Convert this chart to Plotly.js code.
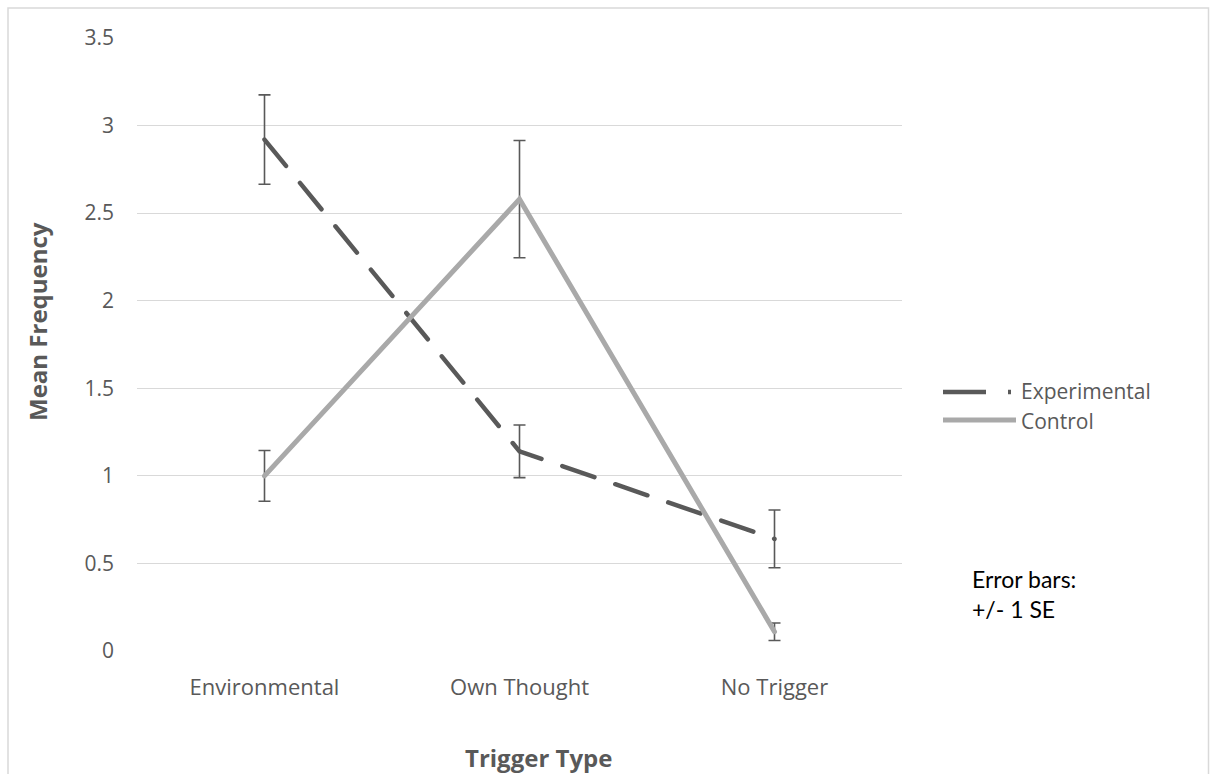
<!DOCTYPE html>
<html>
<head>
<meta charset="utf-8">
<script src="https://cdn.plot.ly/plotly-3.0.1.min.js"></script>
<style>
  html, body { margin: 0; padding: 0; background: #fff; }
  #chart { width: 1210px; height: 774px; }
  .scatterlayer .js-line { stroke-linecap: round; }
</style>
</head>
<body>
<div id="chart"></div>
<script>
// ---- Data ----
const categories = ["Environmental", "Own Thought", "No Trigger"];
const experimentalMean = [2.92, 1.14, 0.64];
const experimentalSE = [0.255, 0.15, 0.165];
const controlMean = [1.00, 2.58, 0.11];
const controlSE = [0.145, 0.335, 0.05];
const yTickVals = [0, 0.5, 1, 1.5, 2, 2.5, 3, 3.5];
const yTickText = ["0", "0.5", "1", "1.5", "2", "2.5", "3", "3.5"];
const seriesNames = ["Experimental", "Control"];
const xTitle = "Trigger Type";
const yTitle = "Mean Frequency";

// ---- Layout geometry (pixels) ----
const W = 1210, H = 774;
const M = { l: 137, r: 308, t: 38, b: 123 };
const PW = W - M.l - M.r, PH = H - M.t - M.b;
const px = x => (x - M.l) / PW;
const py = y => (H - M.b - y) / PH;

const darkGray = "#595959";
const lightGray = "#A9A9A9";
const errColor = "#595959";

const traces = [
  {
    type: "scatter", mode: "lines", name: seriesNames[0],
    x: categories, y: experimentalMean,
    line: { color: darkGray, width: 4.5, dash: "34px,22px" },
    error_y: { type: "data", array: experimentalSE, visible: true, color: errColor, thickness: 1.6, width: 6 },
    showlegend: false, hoverinfo: "x+y"
  },
  {
    type: "scatter", mode: "lines", name: seriesNames[1],
    x: categories, y: controlMean,
    line: { color: lightGray, width: 5 },
    error_y: { type: "data", array: controlSE, visible: true, color: errColor, thickness: 1.6, width: 6 },
    showlegend: false, hoverinfo: "x+y"
  }
];

const font = "'Open Sans', 'Noto Sans', sans-serif";

const shapes = [
  // outer chart border
  { type: "rect", xref: "paper", yref: "paper", x0: px(8), x1: px(1208.5), y0: py(790), y1: py(8),
    line: { color: "#D9D9D9", width: 1.5 }, fillcolor: "rgba(0,0,0,0)", layer: "below" },
  // legend: experimental
  { type: "line", xref: "paper", yref: "paper", x0: px(943), x1: px(986), y0: py(392), y1: py(392),
    line: { color: darkGray, width: 4.5 } },
  { type: "line", xref: "paper", yref: "paper", x0: px(1008), x1: px(1011), y0: py(392), y1: py(392),
    line: { color: darkGray, width: 4.5 } },
  // legend: control
  { type: "line", xref: "paper", yref: "paper", x0: px(943), x1: px(1016), y0: py(420), y1: py(420),
    line: { color: lightGray, width: 5 } }
];

const annotations = [
  { xref: "paper", yref: "paper", x: px(1019), y: py(391), xanchor: "left", yanchor: "middle",
    text: seriesNames[0], showarrow: false, font: { family: font, size: 21, color: darkGray } },
  { xref: "paper", yref: "paper", x: px(1019), y: py(421), xanchor: "left", yanchor: "middle",
    text: seriesNames[1], showarrow: false, font: { family: font, size: 21, color: darkGray } },
  { xref: "paper", yref: "paper", x: px(970), y: py(594), xanchor: "left", yanchor: "middle", align: "left",
    text: "Error bars:<br>+/- 1 SE", showarrow: false,
    font: { family: "Lato, 'Open Sans', sans-serif", size: 23, color: "#000" } },
  // axis titles
  { xref: "paper", yref: "paper", x: px(538), y: py(757), xanchor: "center", yanchor: "middle",
    text: "<b>" + xTitle + "</b>", showarrow: false, font: { family: font, size: 24, color: darkGray } },
  { xref: "paper", yref: "paper", x: px(37), y: py(322), xanchor: "center", yanchor: "middle", textangle: -90,
    text: "<b>" + yTitle + "</b>", showarrow: false, font: { family: font, size: 24, color: darkGray } }
];

const layout = {
  width: W, height: H,
  margin: { l: M.l, r: M.r, t: M.t, b: M.b, pad: 0 },
  paper_bgcolor: "#fff", plot_bgcolor: "#fff",
  showlegend: false,
  font: { family: font, color: darkGray, size: 20 },
  xaxis: {
    type: "category", range: [-0.5, 2.5], showgrid: false, zeroline: false,
    showline: false, ticks: "", ticklabelstandoff: 21,
    tickfont: { family: font, size: 22, color: darkGray },
    fixedrange: true
  },
  yaxis: {
    range: [0, 3.5], tickvals: yTickVals, ticktext: yTickText,
    showgrid: true, gridcolor: "#D9D9D9", gridwidth: 1.2, zeroline: false, showline: false,
    ticks: "", ticklabelstandoff: 22,
    tickfont: { family: font, size: 21, color: darkGray },
    fixedrange: true
  },
  shapes: shapes,
  annotations: annotations
};

Plotly.newPlot("chart", traces, layout, { displayModeBar: false, staticPlot: true });
</script>
</body>
</html>
